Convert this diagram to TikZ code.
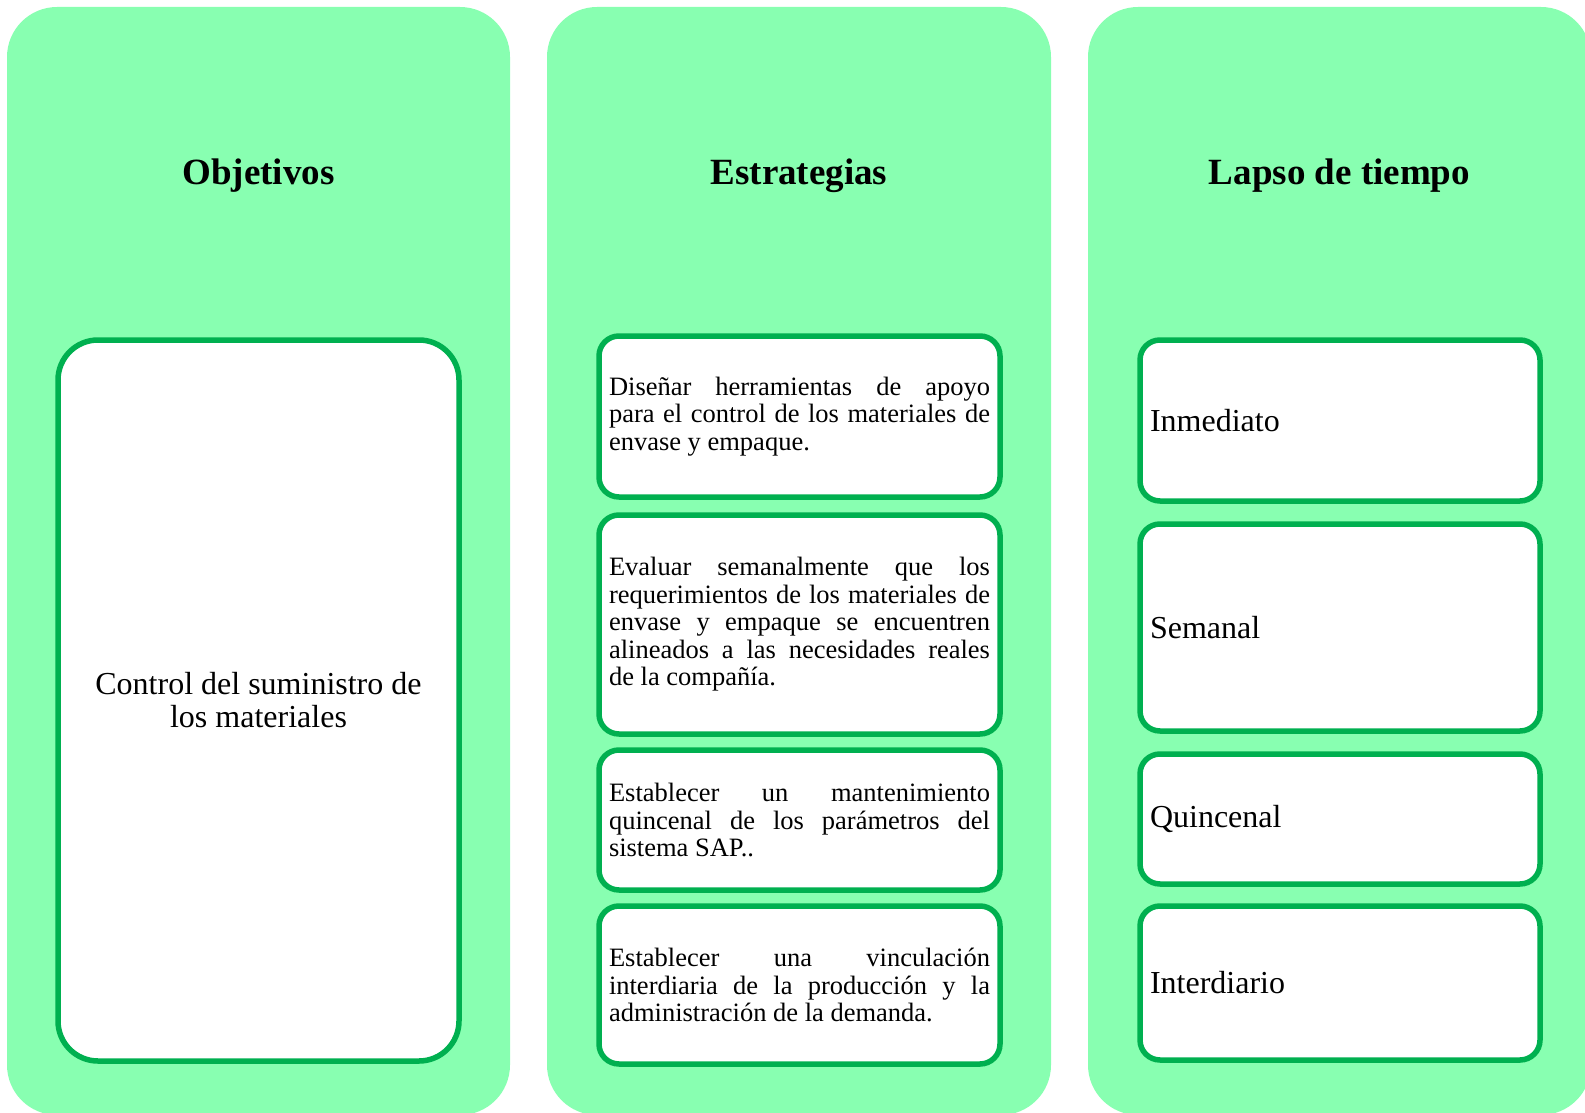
\documentclass[tikz,border=0pt]{standalone}
\usepackage{fontspec}
\setmainfont{Liberation Serif}
\definecolor{colfill}{RGB}{136,255,177}
\definecolor{boxline}{RGB}{0,176,80}
\newcommand\jline[1]{\makebox[381pt][s]{\spaceskip=.25em plus 1fil\relax #1}\\}
\newcommand\tightspaces{\spaceskip=.25em\relax}
\tikzset{
  column/.style={fill=colfill, draw=none, rounded corners=50pt},
  head/.style={font=\fontsize{37}{44}\selectfont\bfseries, anchor=base, inner sep=0pt},
  wbox/.style={draw=boxline, line width=5.5pt, fill=white, rounded corners=20pt, inner sep=0pt, anchor=center},
  stratbox/.style={wbox, text width=381pt, minimum width=401pt, align=left, font=\fontsize{26.5}{27.5}\selectfont, execute at begin node=\tightspaces},
  lapbox/.style={wbox, text width=380pt, minimum width=400pt, align=left, font=\fontsize{32}{36}\selectfont},
  objbox/.style={wbox, rounded corners=40pt, text width=380pt, minimum width=401pt, align=center, font=\fontsize{32}{33}\selectfont, execute at begin node=\tightspaces},
}
\begin{document}
\begin{tikzpicture}[x=1pt,y=-1pt]
\clip (0,0) rectangle (1585,1113);
% columns
\fill[column] (7,7) rectangle (510,1115);
\fill[column] (547,7) rectangle (1051,1115);
\fill[column] (1088,7) rectangle (1591,1115);
% headings
\node[head] (h1) at (258.5,185) {Objetivos};
\node[head] (h2) at (799,185) {Estrategias};
\node[head] (h3) at (1339.5,185) {Lapso de tiempo};
% objective
\node[objbox, minimum height=721pt] (obj) at (258.5,700.5) {Control del suministro de\\los materiales};
% strategies
\node[stratbox, minimum height=161pt] (s1) at (799.5,416.5) {\jline{Diseñar herramientas de apoyo}\jline{para el control de los materiales de}envase y empaque.};
\node[stratbox, minimum height=219pt] (s2) at (799.5,624.5) {\jline{Evaluar semanalmente que los}\jline{requerimientos de los materiales de}\jline{envase y empaque se encuentren}\jline{alineados a las necesidades reales}de la compañía.};
\node[stratbox, minimum height=140pt] (s3) at (799.5,820) {\jline{Establecer un mantenimiento}\jline{quincenal de los parámetros del}sistema SAP..};
\node[stratbox, minimum height=158pt] (s4) at (799.5,985) {\jline{Establecer una vinculación}\jline{interdiaria de la producción y la}administración de la demanda.};
% time spans
\node[lapbox, minimum height=161pt] (l1) at (1340,420.5) {Inmediato};
\node[lapbox, minimum height=207pt] (l2) at (1340,627.5) {Semanal};
\node[lapbox, minimum height=130pt] (l3) at (1340,819) {Quincenal};
\node[lapbox, minimum height=154pt] (l4) at (1340,983) {Interdiario};
\end{tikzpicture}
\end{document}
